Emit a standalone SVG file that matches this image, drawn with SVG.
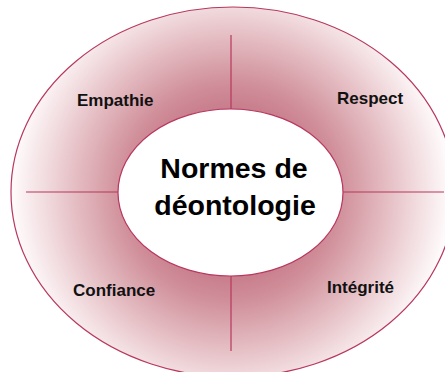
<svg xmlns="http://www.w3.org/2000/svg" width="445" height="372" viewBox="0 0 445 372">
  <defs>
    <radialGradient id="ring" gradientUnits="userSpaceOnUse" cx="231" cy="192" r="218">
      <stop offset="0.35" stop-color="#c67888"/>
      <stop offset="0.5" stop-color="#d08f9a"/>
      <stop offset="0.7" stop-color="#e3bac0"/>
      <stop offset="0.86" stop-color="#f2dde0"/>
      <stop offset="1" stop-color="#fefafb"/>
    </radialGradient>
  </defs>
  <style>
    .edge { stroke: #b8375d; stroke-width: 1.2; fill: none; }
    .label { font-family: "Liberation Sans", Arial, sans-serif; font-weight: bold; font-size: 17px; fill: #111; }
    .title { font-family: "Liberation Sans", Arial, sans-serif; font-weight: bold; font-size: 28.5px; fill: #000; text-anchor: middle; }
  </style>
  <rect width="445" height="372" fill="#ffffff"/>
  <g id="outer-ring">
    <ellipse cx="233" cy="192" rx="222" ry="185" fill="url(#ring)" stroke="#b8375d" stroke-width="1.2"/>
  </g>
  <g id="connectors">
    <line class="edge" x1="231" y1="35" x2="231" y2="109"/>
    <line class="edge" x1="231" y1="276" x2="231" y2="351"/>
    <line class="edge" x1="26" y1="192" x2="118" y2="192"/>
    <line class="edge" x1="343" y1="192" x2="444" y2="192"/>
  </g>
  <g id="center">
    <ellipse cx="230.5" cy="192.5" rx="112.5" ry="83.5" fill="#ffffff" stroke="#b8375d" stroke-width="1.2"/>
    <text class="title" x="234" y="178">Normes de</text>
    <text class="title" x="235" y="215">déontologie</text>
  </g>
  <g id="empathie">
    <text class="label" x="77" y="106">Empathie</text>
  </g>
  <g id="respect">
    <text class="label" x="337" y="104">Respect</text>
  </g>
  <g id="confiance">
    <text class="label" x="73" y="296">Confiance</text>
  </g>
  <g id="integrite">
    <text class="label" x="327" y="293">Intégrité</text>
  </g>
</svg>
